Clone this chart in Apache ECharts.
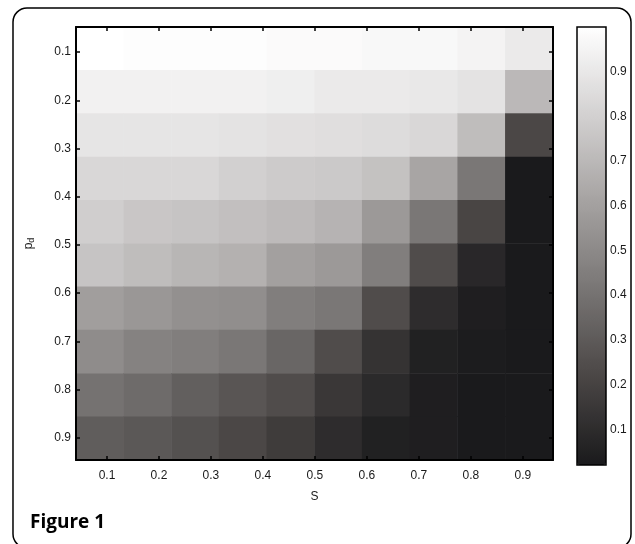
<!DOCTYPE html>
<html>
<head>
<meta charset="utf-8">
<script src="https://cdn.jsdelivr.net/npm/echarts@6/dist/echarts.min.js"></script>
<style>
html,body{margin:0;padding:0;background:#fff;}
#c{width:635px;height:544px;}
</style>
</head>
<body>
<div id="c"></div>
<script>
// ---- data ----
const columnIds = ['c1','c2','c3','c4','c5','c6','c7','c8','c9','c10'];
const rowIds = ['r1','r2','r3','r4','r5','r6','r7','r8','r9','r10'];
const xTickValues = [0.1,0.2,0.3,0.4,0.5,0.6,0.7,0.8,0.9];
const yTickValues = [0.1,0.2,0.3,0.4,0.5,0.6,0.7,0.8,0.9];
const colorbarTicks = [0.1,0.2,0.3,0.4,0.5,0.6,0.7,0.8,0.9];
const xAxisName = 'S';
const figureLabel = 'Figure 1';

const row1  = [1.00,0.99,0.99,0.99,0.98,0.98,0.97,0.97,0.95,0.91];
const row2  = [0.94,0.94,0.94,0.94,0.93,0.91,0.91,0.90,0.88,0.70];
const row3  = [0.89,0.89,0.89,0.88,0.87,0.86,0.85,0.83,0.72,0.22];
const row4  = [0.83,0.83,0.83,0.80,0.78,0.77,0.74,0.62,0.42,0.02];
const row5  = [0.79,0.76,0.75,0.73,0.71,0.68,0.57,0.42,0.21,0.02];
const row6  = [0.75,0.72,0.69,0.67,0.60,0.57,0.45,0.24,0.08,0.02];
const row7  = [0.59,0.56,0.53,0.52,0.45,0.42,0.24,0.10,0.04,0.02];
const row8  = [0.51,0.47,0.45,0.42,0.35,0.24,0.13,0.05,0.03,0.02];
const row9  = [0.40,0.37,0.32,0.28,0.24,0.15,0.09,0.04,0.02,0.02];
const row10 = [0.31,0.29,0.26,0.22,0.17,0.10,0.05,0.04,0.02,0.02];
const valueRows = [row1,row2,row3,row4,row5,row6,row7,row8,row9,row10];

// ---- build ----
const heatData = [];
valueRows.forEach((row, r) => row.forEach((v, c) => heatData.push([c, r, v])));

const FONT = 'Liberation Sans';
const fmt = v => v.toFixed(1);
const plotRect = {left: 76, top: 27, width: 477, height: 433};
const axisLine = {show: true, lineStyle: {color: '#000', width: 2}};
const tickStyle = {color: '#000', width: 1.5};
const labelStyle = {fontFamily: FONT, fontSize: 12, color: '#1a1a1a'};

const chart = echarts.init(document.getElementById('c'));
chart.setOption({
  animation: false,
  backgroundColor: '#fff',
  grid: [
    Object.assign({}, plotRect),
    Object.assign({}, plotRect),
    {left: 577, top: 27, width: 29, height: 438}
  ],
  xAxis: [
    {type: 'category', gridIndex: 0, data: columnIds, show: false},
    {type: 'value', gridIndex: 1, position: 'bottom', min: 0.0404, max: 0.958, z: 10,
     axisLine: axisLine, splitLine: {show: false},
     axisTick: {show: true, inside: true, length: 4, lineStyle: tickStyle, customValues: xTickValues},
     axisLabel: Object.assign({show: true, margin: 10, formatter: fmt, customValues: xTickValues}, labelStyle),
     name: xAxisName, nameLocation: 'middle', nameGap: 31,
     nameTextStyle: {fontFamily: FONT, fontSize: 12, color: '#1a1a1a'}},
    {type: 'value', gridIndex: 1, position: 'top', min: 0.0404, max: 0.958, z: 10,
     axisLine: axisLine, splitLine: {show: false},
     axisTick: {show: true, inside: true, length: 4, lineStyle: tickStyle, customValues: xTickValues},
     axisLabel: {show: false}},
    {type: 'value', gridIndex: 2, min: 0, max: 1, show: false}
  ],
  yAxis: [
    {type: 'category', gridIndex: 0, data: rowIds, inverse: true, show: false},
    {type: 'value', gridIndex: 1, position: 'left', inverse: true, min: 0.048, max: 0.946, z: 10,
     axisLine: axisLine, splitLine: {show: false},
     axisTick: {show: true, inside: true, length: 4, lineStyle: tickStyle, customValues: yTickValues},
     axisLabel: Object.assign({show: true, margin: 5, formatter: fmt, customValues: yTickValues}, labelStyle),
     name: '{a|p}{b|d}', nameLocation: 'middle', nameGap: 40, nameRotate: 90,
     nameTextStyle: {fontFamily: FONT, fontSize: 12, color: '#1a1a1a',
       rich: {a: {fontFamily: FONT, fontSize: 12, color: '#1a1a1a'},
              b: {fontFamily: FONT, fontSize: 9, color: '#1a1a1a', verticalAlign: 'bottom', padding: [6,0,0,0]}}}},
    {type: 'value', gridIndex: 1, position: 'right', inverse: true, min: 0.048, max: 0.946, z: 10,
     axisLine: axisLine, splitLine: {show: false},
     axisTick: {show: true, inside: true, length: 4, lineStyle: tickStyle, customValues: yTickValues},
     axisLabel: {show: false}},
    {type: 'value', gridIndex: 2, position: 'right', min: 0.02, max: 1.0,
     axisLine: {show: false}, splitLine: {show: false},
     axisTick: {show: false},
     axisLabel: Object.assign({show: true, margin: 4, formatter: fmt, customValues: colorbarTicks}, labelStyle)}
  ],
  visualMap: {
    type: 'continuous', min: 0.02, max: 1.0, seriesIndex: 0, calculable: false,
    orient: 'vertical', left: 577, top: 27, itemWidth: 29, itemHeight: 438,
    padding: 0, text: null, hoverLink: false, showLabel: false,
    inRange: {color: ['#1a1a1c', '#4a4645', '#787574', '#a5a2a1', '#d3d1d1', '#ffffff']}
  },
  series: [{
    type: 'heatmap', xAxisIndex: 0, yAxisIndex: 0, data: heatData,
    itemStyle: {borderWidth: 0}, emphasis: {disabled: true}, progressive: 0
  }],
  graphic: [
    {type: 'rect', z: 100, silent: true,
     shape: {x: 13, y: 8, width: 618, height: 540, r: 14},
     style: {fill: null, stroke: '#000', lineWidth: 1.5}},
    {type: 'rect', z: 100, silent: true,
     shape: {x: 577, y: 27, width: 29, height: 438},
     style: {fill: null, stroke: '#000', lineWidth: 1.5}},
    {type: 'text', z: 100, silent: true, left: 30, top: 513,
     style: {text: figureLabel, fontFamily: 'Open Sans', fontWeight: 'bold', fontSize: 19, fill: '#000'}}
  ]
});
</script>
</body>
</html>
